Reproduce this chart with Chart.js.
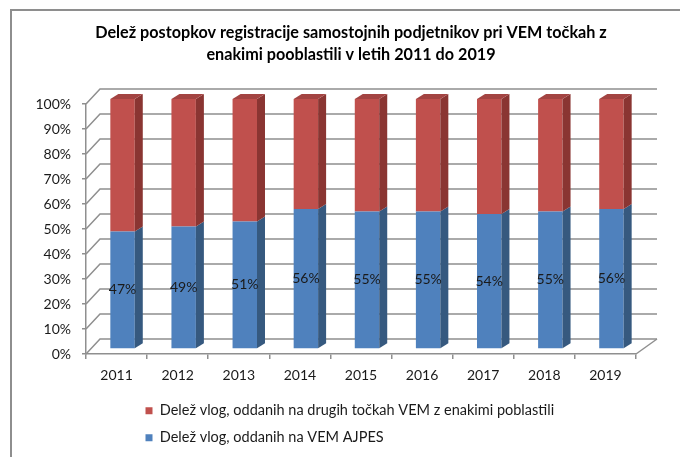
<!DOCTYPE html>
<html>
<head>
<meta charset="utf-8">
<script src="https://cdn.jsdelivr.net/npm/chart.js@4.4.1/dist/chart.umd.min.js"></script>
<style>
  html, body { margin: 0; padding: 0; background: #fff; overflow: hidden; }
  #wrap { position: relative; width: 680px; height: 457px; }
  #frame { position: absolute; left: 10px; top: 9px; width: 700px; height: 500px;
           border-top: 2px solid #8e8e8e; border-left: 2px solid #8e8e8e; pointer-events: none; }
</style>
</head>
<body>
<div id="wrap">
  <canvas id="chart" width="680" height="457"></canvas>
  <div id="frame"></div>
</div>
<script>
var years = ['2011', '2012', '2013', '2014', '2015', '2016', '2017', '2018', '2019'];
var ajpesShare = [47, 49, 51, 56, 55, 55, 54, 55, 56];
var otherShare = [53, 51, 49, 44, 45, 45, 46, 45, 44];
var seriesNames = ['Delež vlog, oddanih na VEM AJPES',
                   'Delež vlog, oddanih na drugih točkah VEM z enakimi poblastili'];
var titleLines = ['Delež postopkov registracije samostojnih podjetnikov pri VEM točkah z',
                  'enakimi pooblastili v letih 2011 do 2019'];

var gridColor = '#8f8f8f';
var sideColors = ['#36597f', '#8a3532'];
var topColor = '#a34442';

// fake 3d: back wall offset, bar offset and bar depth
var wall = { dxLeft: 14, dxRight: 21, dy: -15 };
var barShift = { x: 6, y: -5 };
var barDepth = { x: 8, y: -5 };

var threeD = {
    id: 'threeD',
    afterLayout: function(chart) {
        // title centred on the frame, legend rows start under the plot
        chart.titleBlock.left = 66;
        chart.titleBlock.right = 636;
        chart.legend.left = 133;
    },
    beforeDatasetsDraw: function(chart) {
        var ctx = chart.ctx;
        var area = chart.chartArea;
        var ys = chart.scales.y;
        var backX = function(x) {
            return x + wall.dxLeft + (x - area.left) / (area.right - area.left) * (wall.dxRight - wall.dxLeft);
        };
        ctx.save();
        ctx.strokeStyle = gridColor;
        ctx.lineWidth = 1.5;
        ys.ticks.forEach(function(t) {
            var fy = ys.getPixelForValue(t.value);
            ctx.beginPath();
            ctx.moveTo(area.left, fy);
            ctx.lineTo(backX(area.left), fy + wall.dy);
            ctx.lineTo(backX(area.right), fy + wall.dy);
            ctx.stroke();
        });
        // right edge of the floor
        ctx.beginPath();
        ctx.moveTo(area.right, area.bottom);
        ctx.lineTo(backX(area.right), area.bottom + wall.dy);
        ctx.stroke();
        ctx.restore();

        ctx.save();
        ctx.translate(barShift.x, barShift.y);
    },
    afterDatasetsDraw: function(chart) {
        var ctx = chart.ctx;
        var last = chart.data.datasets.length - 1;
        chart.data.datasets.forEach(function(ds, di) {
            chart.getDatasetMeta(di).data.forEach(function(bar) {
                var p = bar.getProps(['x', 'y', 'base', 'width'], true);
                var r = p.x + p.width / 2, l = p.x - p.width / 2;
                ctx.fillStyle = sideColors[di];
                ctx.beginPath();
                ctx.moveTo(r, p.y);
                ctx.lineTo(r + barDepth.x, p.y + barDepth.y);
                ctx.lineTo(r + barDepth.x, p.base + barDepth.y);
                ctx.lineTo(r, p.base);
                ctx.closePath();
                ctx.fill();
                if (di === last) {
                    ctx.fillStyle = topColor;
                    ctx.beginPath();
                    ctx.moveTo(l, p.y);
                    ctx.lineTo(l + barDepth.x, p.y + barDepth.y);
                    ctx.lineTo(r + barDepth.x, p.y + barDepth.y);
                    ctx.lineTo(r, p.y);
                    ctx.closePath();
                    ctx.fill();
                }
            });
        });
        // value labels on the blue part
        ctx.font = '14px Lato';
        ctx.fillStyle = '#1a1a1a';
        ctx.textAlign = 'center';
        ctx.textBaseline = 'middle';
        chart.getDatasetMeta(0).data.forEach(function(bar, i) {
            var p = bar.getProps(['x', 'y', 'base'], true);
            ctx.fillText(chart.data.datasets[0].data[i] + '%', p.x, (p.y + p.base) / 2);
        });
        ctx.restore();
    }
};

var ctx = document.getElementById('chart');
new Chart(ctx, {
    type: 'bar',
    data: {
        labels: years,
        datasets: [
            { label: seriesNames[0], data: ajpesShare, backgroundColor: '#4f81bd', clip: false },
            { label: seriesNames[1], data: otherShare, backgroundColor: '#c0504d', clip: false }
        ]
    },
    options: {
        responsive: false,
        animation: false,
        devicePixelRatio: 1,
        categoryPercentage: 1,
        barPercentage: 0.4,
        layout: { padding: { left: 12, right: 44, top: 0, bottom: 2 } },
        scales: {
            x: {
                stacked: true,
                grid: { drawOnChartArea: false, drawTicks: true, tickLength: 5, color: gridColor, lineWidth: 1.5 },
                border: { display: true, color: gridColor, width: 1.5 },
                ticks: { font: { family: 'Lato', size: 14 }, color: '#1a1a1a', padding: 8 },
                afterFit: function(s) { s.height = 37; }
            },
            y: {
                stacked: true,
                min: 0,
                max: 100,
                grid: { drawOnChartArea: false, drawTicks: true, tickLength: 4, color: gridColor, lineWidth: 1.5 },
                border: { display: true, color: gridColor, width: 1.5 },
                ticks: {
                    stepSize: 10,
                    padding: 11,
                    font: { family: 'Lato', size: 14 },
                    color: '#1a1a1a',
                    callback: function(v) { return v + '%'; }
                },
                afterFit: function(s) { s.width = 74; }
            }
        },
        plugins: {
            title: {
                display: true,
                text: titleLines,
                color: '#000',
                font: { family: 'Lato', size: 16.2, weight: 'bold', lineHeight: 1.36 },
                padding: { top: 22, bottom: 38 }
            },
            legend: {
                position: 'bottom',
                align: 'start',
                reverse: true,
                labels: {
                    boxWidth: 7,
                    boxHeight: 7,
                    padding: 12.5,
                    color: '#1a1a1a',
                    font: { family: 'Lato', size: 14.5 }
                }
            },
            tooltip: { enabled: false }
        }
    },
    plugins: [threeD]
});
</script>
</body>
</html>
